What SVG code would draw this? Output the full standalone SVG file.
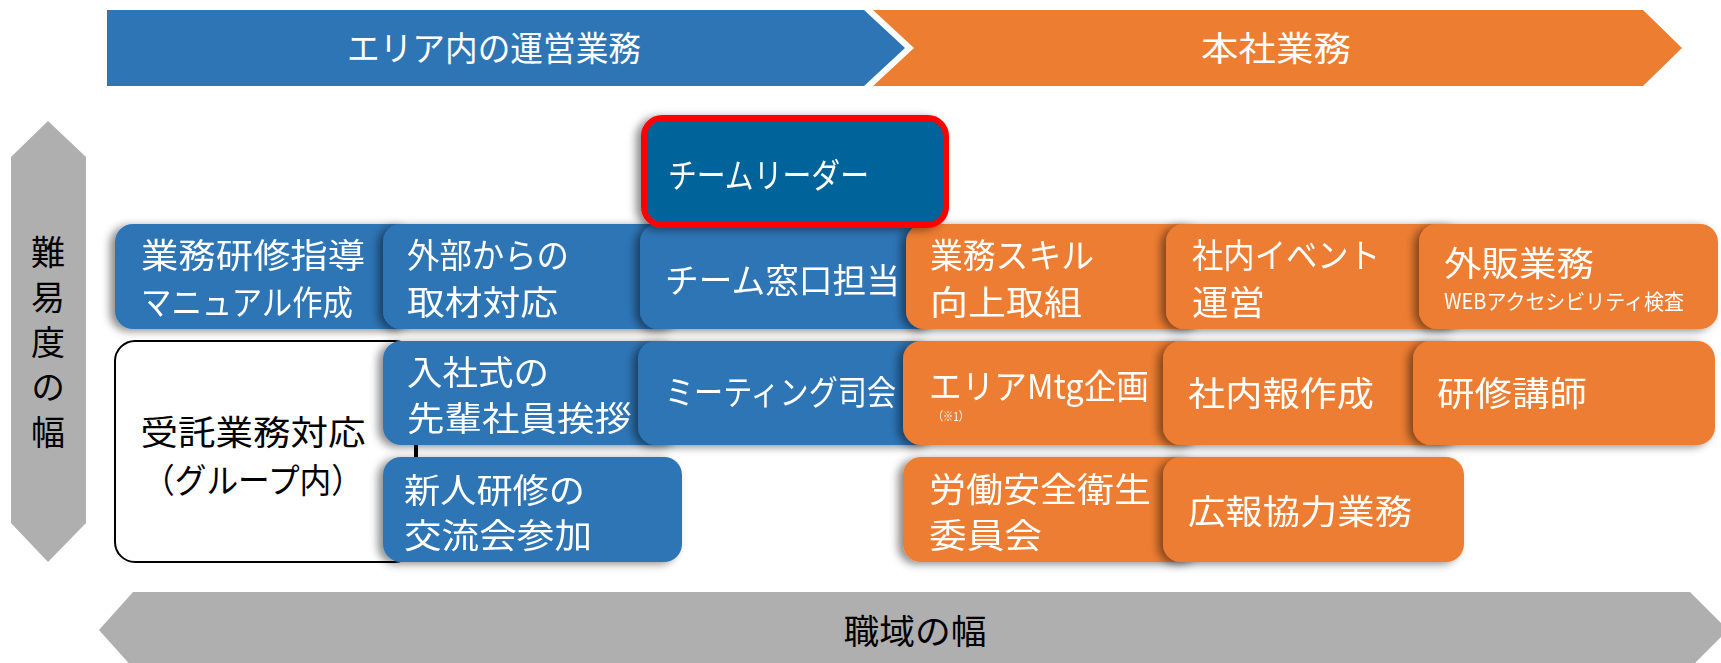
<svg xmlns="http://www.w3.org/2000/svg" width="1721" height="663" viewBox="0 0 1721 663">
<defs>
<filter id="sh" x="-20%" y="-20%" width="140%" height="140%">
<feDropShadow dx="-5" dy="2" stdDeviation="4" flood-color="#000" flood-opacity="0.45"/>
</filter>
</defs>
<style>
text{font-family:"Noto Sans CJK JP","Noto Sans",sans-serif;}
.b{fill:#2E75B6;}
.o{fill:#ED7D31;}
.nt{fill:#fff;font-size:34px;}
.bt{fill:#fff;font-size:34px;}
.kt{fill:#000;font-size:34px;}
.sm{fill:#fff;font-size:21px;}
.xs{fill:#fff;font-size:12px;}
.gr{fill:#AFAFAF;}
</style>
<rect width="1721" height="663" fill="#fff"/>

<g id="banner-area">
<polygon class="b" points="107,10 864,10 905,48 864,86 107,86"/>
<text class="bt" x="494" y="61" text-anchor="middle" textLength="294" lengthAdjust="spacingAndGlyphs">エリア内の運営業務</text>
</g>
<g id="banner-hq">
<polygon class="o" points="873,10 1643,10 1682,48 1643,86 873,86 914,48"/>
<text class="bt" x="1276" y="61" text-anchor="middle" textLength="150" lengthAdjust="spacingAndGlyphs">本社業務</text>
</g>

<g id="axis-difficulty">
<polygon class="gr" points="48,121 86,157 86,523 48,562 11,523 11,157"/>
<text class="kt" x="48" y="235" writing-mode="vertical-rl" letter-spacing="11">難易度の幅</text>
</g>
<g id="axis-scope">
<polygon class="gr" points="99,630 133,592 1690,592 1728,630 1690,668 133,668"/>
<text class="kt" x="915" y="644" text-anchor="middle" textLength="143" lengthAdjust="spacingAndGlyphs">職域の幅</text>
</g>

<g id="n-group">
<rect x="115" y="341" width="300" height="221" rx="20" fill="#fff" stroke="#000" stroke-width="2"/>
<text class="kt" x="253" y="445" text-anchor="middle" textLength="225" lengthAdjust="spacingAndGlyphs">受託業務対応</text>
<text class="kt" x="253" y="493" text-anchor="middle" textLength="220" lengthAdjust="spacingAndGlyphs">（グループ内）</text>
</g>

<g id="connectors">
<line x1="417" y1="445" x2="417" y2="457" stroke="#000" stroke-width="2"/>
</g>

<g id="n1" filter="url(#sh)">
<rect class="b" x="115" y="224" width="300" height="105" rx="18"/>
<text class="nt" x="141" y="268" textLength="224" lengthAdjust="spacingAndGlyphs">業務研修指導</text>
<text class="nt" x="141" y="315" textLength="212" lengthAdjust="spacingAndGlyphs">マニュアル作成</text>
</g>
<g id="n2" filter="url(#sh)">
<rect class="b" x="383" y="224" width="300" height="105" rx="18"/>
<text class="nt" x="407" y="268" textLength="162" lengthAdjust="spacingAndGlyphs">外部からの</text>
<text class="nt" x="407" y="315" textLength="151" lengthAdjust="spacingAndGlyphs">取材対応</text>
</g>
<g id="n3" filter="url(#sh)">
<rect class="b" x="640" y="224" width="300" height="105" rx="18"/>
<text class="nt" x="665" y="293" textLength="235" lengthAdjust="spacingAndGlyphs">チーム窓口担当</text>
</g>
<g id="n4" filter="url(#sh)">
<rect class="o" x="906" y="224" width="300" height="105" rx="18"/>
<text class="nt" x="930" y="268" textLength="164" lengthAdjust="spacingAndGlyphs">業務スキル</text>
<text class="nt" x="930" y="315" textLength="152" lengthAdjust="spacingAndGlyphs">向上取組</text>
</g>
<g id="n5" filter="url(#sh)">
<rect class="o" x="1166" y="224" width="300" height="105" rx="18"/>
<text class="nt" x="1192" y="268" textLength="188" lengthAdjust="spacingAndGlyphs">社内イベント</text>
<text class="nt" x="1192" y="315" textLength="73" lengthAdjust="spacingAndGlyphs">運営</text>
</g>
<g id="n6" filter="url(#sh)">
<rect class="o" x="1419" y="224" width="299" height="105" rx="18"/>
<text class="nt" x="1444" y="276" textLength="150" lengthAdjust="spacingAndGlyphs">外販業務</text>
<text class="sm" x="1444" y="309" textLength="240" lengthAdjust="spacingAndGlyphs">WEBアクセシビリティ検査</text>
</g>

<g id="n-leader" filter="url(#sh)">
<rect x="644" y="118" width="302" height="107" rx="18" fill="#03649A" stroke="#FF0000" stroke-width="6"/>
<text class="nt" x="668" y="188" textLength="201" lengthAdjust="spacingAndGlyphs">チームリーダー</text>
</g>

<g id="n7" filter="url(#sh)">
<rect class="b" x="383" y="341" width="300" height="104" rx="18"/>
<text class="nt" x="407" y="385" textLength="142" lengthAdjust="spacingAndGlyphs">入社式の</text>
<text class="nt" x="407" y="431" textLength="225" lengthAdjust="spacingAndGlyphs">先輩社員挨拶</text>
</g>
<g id="n8" filter="url(#sh)">
<rect class="b" x="638" y="341" width="300" height="104" rx="18"/>
<text class="nt" x="665" y="405" textLength="231" lengthAdjust="spacingAndGlyphs">ミーティング司会</text>
</g>
<g id="n9" filter="url(#sh)">
<rect class="o" x="903" y="341" width="300" height="104" rx="18"/>
<text class="nt" x="929" y="399" textLength="220" lengthAdjust="spacingAndGlyphs">エリアMtg企画</text>
<text class="xs" x="933" y="421" textLength="36" lengthAdjust="spacingAndGlyphs">（※1）</text>
</g>
<g id="n10" filter="url(#sh)">
<rect class="o" x="1163" y="341" width="300" height="104" rx="18"/>
<text class="nt" x="1188" y="406" textLength="186" lengthAdjust="spacingAndGlyphs">社内報作成</text>
</g>
<g id="n11" filter="url(#sh)">
<rect class="o" x="1413" y="341" width="302" height="104" rx="18"/>
<text class="nt" x="1437" y="406" textLength="150" lengthAdjust="spacingAndGlyphs">研修講師</text>
</g>

<g id="n12" filter="url(#sh)">
<rect class="b" x="383" y="457" width="299" height="105" rx="18"/>
<text class="nt" x="404" y="503" textLength="181" lengthAdjust="spacingAndGlyphs">新人研修の</text>
<text class="nt" x="404" y="548" textLength="188" lengthAdjust="spacingAndGlyphs">交流会参加</text>
</g>
<g id="n13" filter="url(#sh)">
<rect class="o" x="903" y="457" width="300" height="105" rx="18"/>
<text class="nt" x="929" y="502" textLength="222" lengthAdjust="spacingAndGlyphs">労働安全衛生</text>
<text class="nt" x="929" y="548" textLength="113" lengthAdjust="spacingAndGlyphs">委員会</text>
</g>
<g id="n14" filter="url(#sh)">
<rect class="o" x="1163" y="457" width="301" height="105" rx="18"/>
<text class="nt" x="1188" y="524" textLength="224" lengthAdjust="spacingAndGlyphs">広報協力業務</text>
</g>
</svg>
